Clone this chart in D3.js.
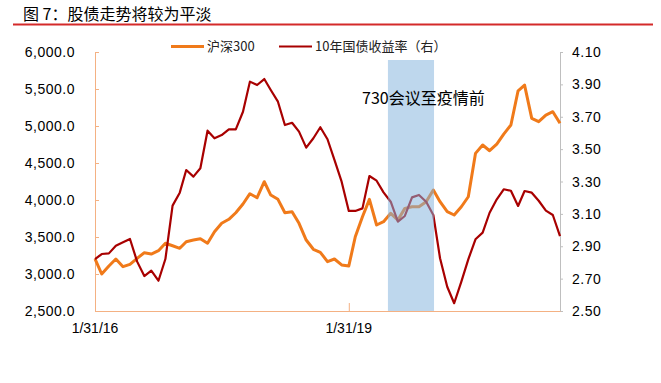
<!DOCTYPE html>
<html>
<head>
<meta charset="utf-8">
<script src="https://cdn.jsdelivr.net/npm/d3@7"></script>
<style>
  body { margin: 0; background: #fff; }
  text { font-family: "Liberation Sans", "Noto Sans CJK SC", sans-serif; }
  .cjk { font-family: "Noto Sans CJK SC", sans-serif; }
</style>
</head>
<body>
<div id="chart"></div>
<script>
// monthly data, Jan 2016 .. Jul 2021 (month ends)
const startMonth = new Date(2016, 0, 31);
const hs300 = [
  3203, 3000, 3108, 3203, 3099, 3131, 3212, 3288, 3270, 3315, 3415, 3382,
  3347, 3436, 3459, 3477, 3415, 3572, 3685, 3739, 3828, 3946, 4085, 4031,
  4247, 4067, 4009, 3828, 3842, 3685, 3459, 3334, 3293, 3167, 3203, 3122,
  3108, 3504, 3774, 4009, 3662, 3707, 3820, 3729, 3887, 3909, 3909, 3977,
  4135, 3977, 3842, 3797, 3909, 4044, 4630, 4743, 4666, 4756, 4891, 5013,
  5476, 5553, 5103, 5058, 5148, 5193, 5036
];
const bond10y = [
  2.821, 2.852, 2.856, 2.903, 2.924, 2.945, 2.805, 2.716, 2.749, 2.687, 2.821, 3.151,
  3.231, 3.371, 3.330, 3.382, 3.614, 3.567, 3.587, 3.622, 3.622, 3.731, 3.917, 3.896,
  3.933, 3.865, 3.793, 3.649, 3.663, 3.608, 3.509, 3.567, 3.635, 3.561, 3.433, 3.299,
  3.118, 3.118, 3.134, 3.334, 3.305, 3.233, 3.175, 3.052, 3.087, 3.202, 3.217, 3.175,
  3.093, 2.826, 2.650, 2.548, 2.681, 2.819, 2.943, 2.984, 3.107, 3.190, 3.252, 3.243,
  3.149, 3.241, 3.231, 3.181, 3.120, 3.093, 2.963
];
const leftTicks = [2500, 3000, 3500, 4000, 4500, 5000, 5500, 6000];
const rightTicks = [2.5, 2.7, 2.9, 3.1, 3.3, 3.5, 3.7, 3.9, 4.1];
const xTickLabels = ["1/31/16", "1/31/19"];
const band = ["2019-07-19", "2020-02-03"];
const bandLabel = "730会议至疫情前";
const seriesNames = ["沪深300", "10年国债收益率（右）"];

const width = 661, height = 383;
const parseMDY = d3.timeParse("%m/%d/%y");
const parseISO = d3.timeParse("%Y-%m-%d");

const dates = hs300.map((d, i) =>
  d3.timeDay.offset(d3.timeMonth.offset(new Date(2016, 1, 1), i), -1));

const svg = d3.select("#chart")
  .append("svg")
    .attr("width", width)
    .attr("height", height);

// title
svg.append("text")
  .attr("class", "cjk")
  .attr("x", 23)
  .attr("y", 20)
  .attr("font-size", 16)
  .attr("fill", "#000")
  .text("图 7：股债走势将较为平淡");
svg.append("line")
  .attr("x1", 13).attr("x2", 653)
  .attr("y1", 24.5).attr("y2", 24.5)
  .attr("stroke", "#d42a2a")
  .attr("stroke-width", 2);

const x = d3.scaleTime()
  .domain([startMonth, dates[dates.length - 1]])
  .range([95, 560]);
const yL = d3.scaleLinear().domain([2500, 6000]).range([311, 52]);
const yR = d3.scaleLinear().domain([2.5, 4.1]).range([311, 52]);

// left axis
const leftAxis = svg.append("g")
  .attr("transform", "translate(95,0)")
  .call(d3.axisRight(yL).tickValues(leftTicks).tickSize(4).tickFormat(""));
leftAxis.select(".domain").attr("stroke", "#f4b183");
leftAxis.selectAll(".tick line").attr("stroke", "#f4b183");
svg.selectAll(".ylab")
  .data(leftTicks)
  .enter()
  .append("text")
    .attr("class", "ylab")
    .attr("x", 75)
    .attr("y", d => yL(d) + 5)
    .attr("text-anchor", "end")
    .attr("font-size", 14)
    .attr("letter-spacing", 0.5)
    .attr("fill", "#000")
    .text(d => d3.format(",.1f")(d));

// right axis
const rightAxis = svg.append("g")
  .attr("transform", "translate(560,0)")
  .call(d3.axisRight(yR).tickValues(rightTicks).tickSize(3).tickFormat(""));
rightAxis.select(".domain").attr("stroke", "#bfbfbf");
rightAxis.selectAll(".tick line").attr("stroke", "#bfbfbf");
svg.selectAll(".rlab")
  .data(rightTicks)
  .enter()
  .append("text")
    .attr("class", "rlab")
    .attr("x", 572)
    .attr("y", d => yR(d) + 5)
    .attr("font-size", 14)
    .attr("letter-spacing", 0.5)
    .attr("fill", "#000")
    .text(d => d3.format(".2f")(d));

// bottom axis
const xTicks = xTickLabels.map(parseMDY);
const bottomAxis = svg.append("g")
  .attr("transform", "translate(0,311)")
  .call(d3.axisTop(x).tickValues(xTicks).tickSize(8).tickFormat("").tickSizeOuter(0));
bottomAxis.select(".domain").attr("stroke", "#f4b183");
bottomAxis.selectAll(".tick line").attr("stroke", "#f4b183");
svg.selectAll(".xlab")
  .data(xTicks)
  .enter()
  .append("text")
    .attr("class", "xlab")
    .attr("x", d => x(d))
    .attr("y", 333)
    .attr("text-anchor", "middle")
    .attr("font-size", 14)
    .attr("fill", "#000")
    .text((d, i) => xTickLabels[i]);

// lines
const lineL = d3.line().x((d, i) => x(dates[i])).y(d => yL(d));
const lineR = d3.line().x((d, i) => x(dates[i])).y(d => yR(d));

svg.append("path")
  .datum(hs300)
  .attr("d", lineL)
  .attr("fill", "none")
  .attr("stroke", "#f07a1a")
  .attr("stroke-width", 3)
  .attr("stroke-linejoin", "round");

svg.append("path")
  .datum(bond10y)
  .attr("d", lineR)
  .attr("fill", "none")
  .attr("stroke", "#a80000")
  .attr("stroke-width", 2.2)
  .attr("stroke-linejoin", "round");

// shaded period on top of the lines
const b0 = x(parseISO(band[0])), b1 = x(parseISO(band[1]));
svg.append("rect")
  .attr("x", b0)
  .attr("y", 60)
  .attr("width", b1 - b0)
  .attr("height", 311 - 60)
  .attr("fill", "#82b2dd")
  .attr("opacity", 0.52);

svg.append("text")
  .attr("class", "cjk")
  .attr("x", 362)
  .attr("y", 104)
  .attr("font-size", 16)
  .attr("fill", "#000")
  .text(bandLabel);

// legend
const legend = svg.append("g");
const legendX = [171, 279];
const legendColors = ["#f07a1a", "#a80000"];
const legendWidths = [3, 2.2];
legend.selectAll("line")
  .data(seriesNames)
  .enter()
  .append("line")
    .attr("x1", (d, i) => legendX[i])
    .attr("x2", (d, i) => legendX[i] + 33)
    .attr("y1", 46.5)
    .attr("y2", 46.5)
    .attr("stroke", (d, i) => legendColors[i])
    .attr("stroke-width", (d, i) => legendWidths[i]);
legend.selectAll("text")
  .data(seriesNames)
  .enter()
  .append("text")
    .attr("class", "cjk")
    .attr("x", (d, i) => legendX[i] + 36)
    .attr("y", 51)
    .attr("font-size", 13)
    .attr("fill", "#222")
    .text(d => d);
</script>
</body>
</html>
